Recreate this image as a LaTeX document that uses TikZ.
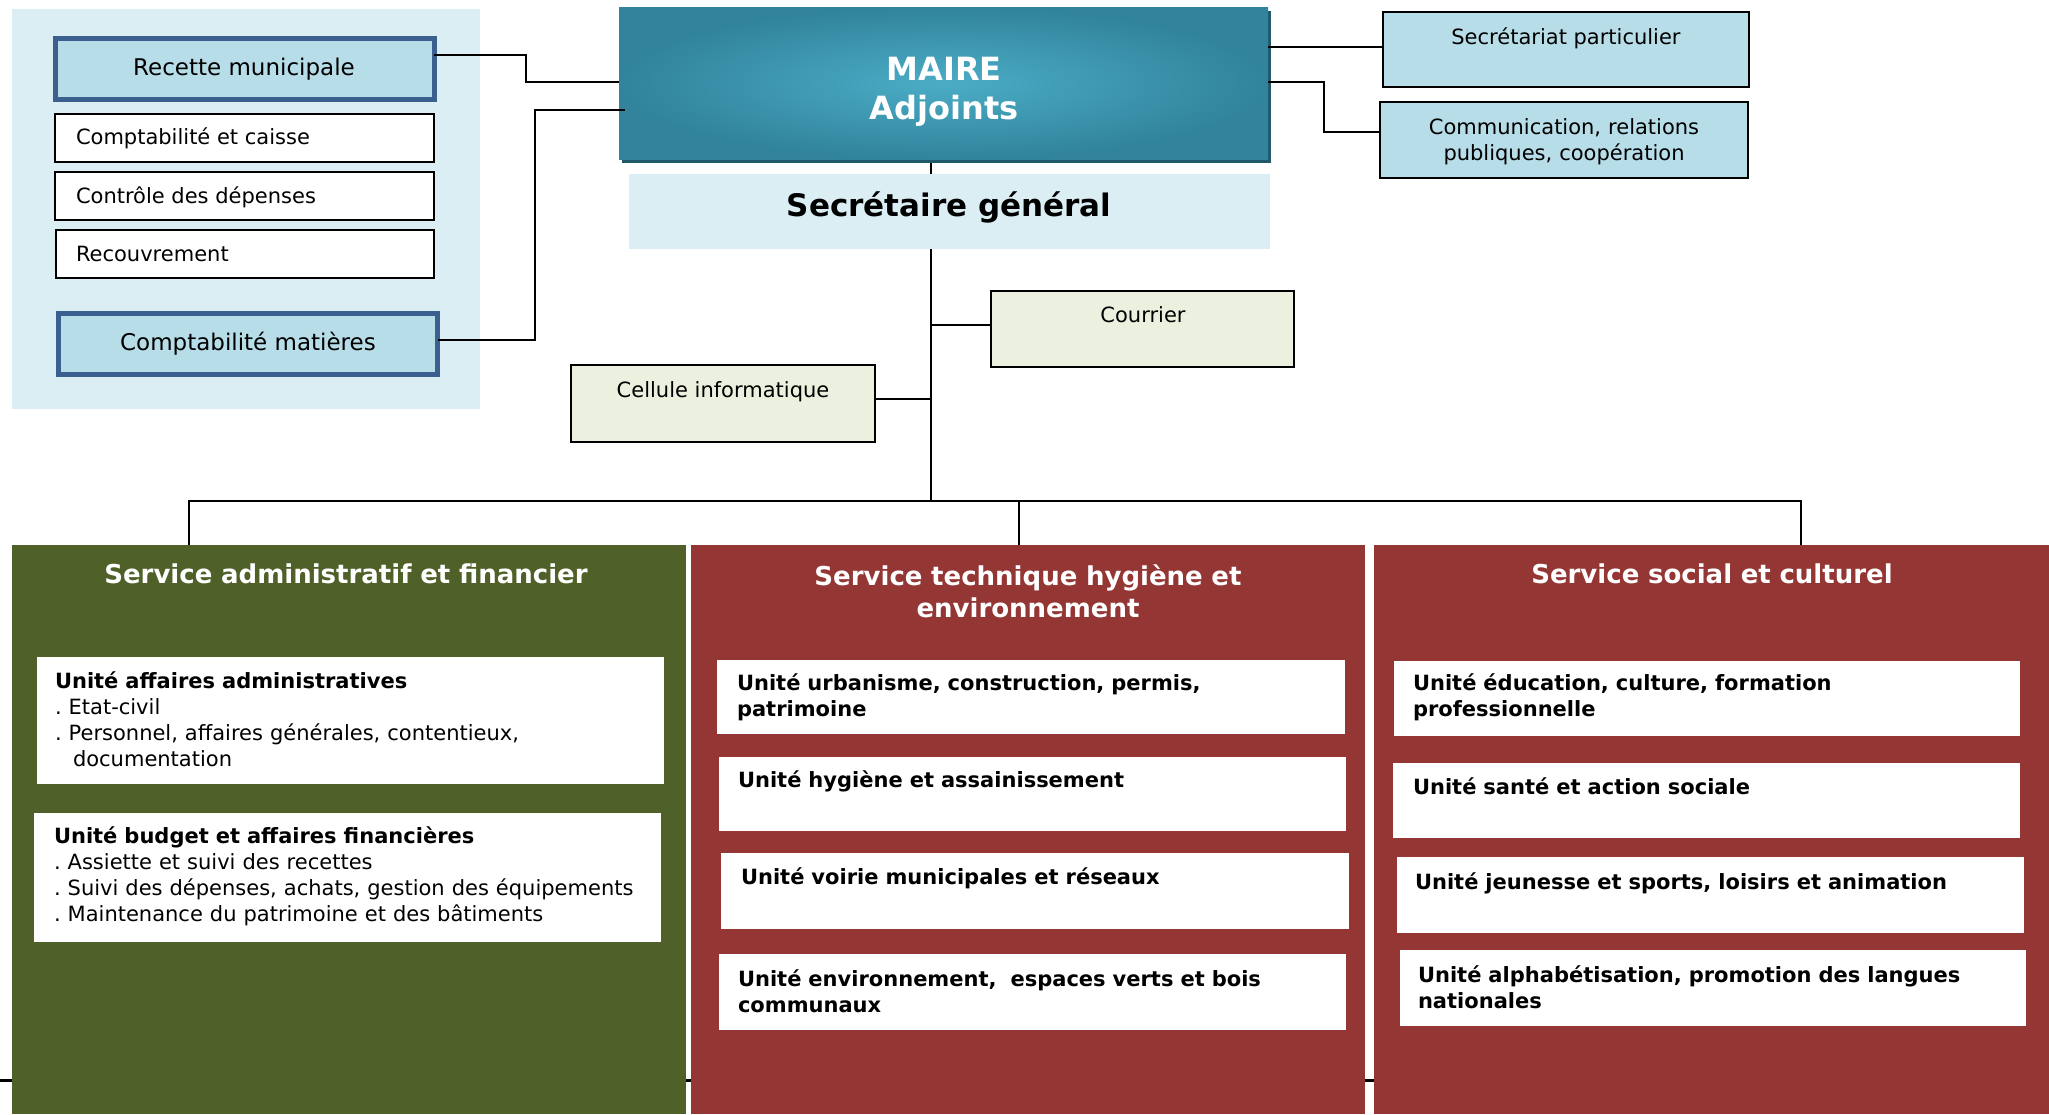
\documentclass[tikz,border=0pt]{standalone}
\usepackage{fontspec}
\setmainfont{DejaVu Sans}
\usetikzlibrary{fit}
\definecolor{panel}{HTML}{DBEEF3}
\definecolor{lblue}{HTML}{B7DDE8}
\definecolor{dblue}{HTML}{3B5F8F}
\definecolor{lgreen}{HTML}{EBF1DE}
\definecolor{olive}{HTML}{4F6128}
\definecolor{dred}{HTML}{943634}
\definecolor{tealA}{HTML}{31849B}
\definecolor{tealB}{HTML}{4BACC6}
\definecolor{tealsh}{HTML}{215968}
\definecolor{sgfill}{HTML}{DAEEF3}
\newcommand\myfs[2]{\fontsize{#1}{#2}\selectfont}
\frenchspacing
\begin{document}
\begin{tikzpicture}[x=1pt,y=-1pt,
  every node/.style={inner sep=0pt,outer sep=0pt},
  conn/.style={draw=black,line width=2pt},
  recbox/.style={fill=lblue,draw=dblue,line width=5pt},
  whitebox/.style={fill=white,draw=black,line width=2pt},
  bluebox/.style={fill=lblue,draw=black,line width=2pt},
  greenbox/.style={fill=lgreen,draw=black,line width=2pt},
  unitbox/.style={fill=white},
  small/.style={font=\myfs{21}{26}},
  big/.style={font=\myfs{23}{28}},
  svtitle/.style={font=\myfs{26}{32}\bfseries,text=white,text width=520pt,align=center,anchor=base},
  unittxt/.style={font=\myfs{21}{26}\frenchspacing,text width=620pt,align=left,anchor=base west},
]
\useasboundingbox (0,0) rectangle (2049,1114);

% faint line seen behind the service blocks
\coordinate (bl) at (0,1080);
\coordinate (br) at (2049,1080);
\draw[line width=3pt] (bl) -- (br);

% ---------- left panel ----------
\node[fill=panel,fit={(12,9) (480,409)}] (panel) {};
\node[recbox,fit={(55,38) (434,99)}] (rec) {};
\node[big,anchor=base] (trec) at (244,75) {Recette municipale};
\node[whitebox,fit={(55,114) (434,162)}] (cc) {};
\node[small,anchor=base west] (tcc) at (76,144.5) {Comptabilité et caisse};
\node[whitebox,fit={(55,172) (434,220)}] (cd) {};
\node[small,anchor=base west] (tcd) at (76,203.5) {Contrôle des dépenses};
\node[whitebox,fit={(56,230) (434,278)}] (rc) {};
\node[small,anchor=base west] (trc) at (76,261.5) {Recouvrement};
\node[recbox,fit={(58.5,313.5) (437.5,374.5)}] (cm) {};
\node[big,anchor=base] (tcm) at (248,350) {Comptabilité matières};

% ---------- Maire ----------
\node[fill=tealsh,fit={(622,11) (1271,163)}] (msh) {};
\node[shading=radial,inner color=tealB,outer color=tealA,fit={(619,7) (1268,159)}] (maire) {};
\node[font=\myfs{32}{39}\bfseries,text=white,text width=400pt,align=center,anchor=base] (tmaire) at (944,80.5) {MAIRE\\Adjoints};

\node[fill=sgfill,fit={(629,174) (1270,249)}] (sg) {};
\node[font=\myfs{31}{36}\bfseries,anchor=base] (tsg) at (949,216) {Secrétaire général};

% ---------- right top ----------
\node[bluebox,fit={(1383,12) (1749,87)}] (sec) {};
\node[small,anchor=base] (tsec) at (1566,44.5) {Secrétariat particulier};
\node[bluebox,fit={(1380,102) (1748,178)}] (com) {};
\node[small,text width=360pt,align=center,anchor=base] (tcom) at (1564,134.5) {Communication, relations\\publiques, coopération};

% ---------- Courrier / Cellule ----------
\node[greenbox,fit={(991,291) (1294,367)}] (cou) {};
\node[small,anchor=base] (tcou) at (1143,322.5) {Courrier};
\node[greenbox,fit={(571,365) (875,442)}] (cel) {};
\node[small,anchor=base] (tcel) at (723,397.5) {Cellule informatique};

% ---------- services ----------
\node[fill=olive,fit={(12,545) (686,1114)}] (svA) {};
\node[fill=dred,fit={(691,545) (1365,1114)}] (svB) {};
\node[fill=dred,fit={(1374,545) (2049,1114)}] (svC) {};
\node[svtitle] (tsvA) at (346,583.5) {Service administratif et financier};
\node[svtitle] (tsvB) at (1028,585.5) {Service technique hygiène et\\environnement};
\node[svtitle] (tsvC) at (1712,583.5) {Service social et culturel};

% units - administratif
\node[unitbox,fit={(37,657) (664,784)}] (uA1) {};
\node[unittxt] (tuA1) at (55,688.5) {\textbf{Unité affaires administratives}\\. Etat-civil\\. Personnel, affaires générales, contentieux,\\\hspace*{18pt}documentation};
\node[unitbox,fit={(34,813) (661,942)}] (uA2) {};
\node[unittxt] (tuA2) at (54,843.5) {\textbf{Unité budget et affaires financières}\\. Assiette et suivi des recettes\\. Suivi des dépenses, achats, gestion des équipements\\. Maintenance du patrimoine et des bâtiments};

% units - technique
\node[unitbox,fit={(717,660) (1345,734)}] (uB1) {};
\node[unittxt,font=\myfs{21}{26}\bfseries] (tuB1) at (737,690.5) {Unité urbanisme, construction, permis,\\patrimoine};
\node[unitbox,fit={(719,757) (1346,831)}] (uB2) {};
\node[unittxt,font=\myfs{21}{26}\bfseries] (tuB2) at (738,787.5) {Unité hygiène et assainissement};
\node[unitbox,fit={(721,853) (1349,929)}] (uB3) {};
\node[unittxt,font=\myfs{21}{26}\bfseries] (tuB3) at (741,884.5) {Unité voirie municipales et réseaux};
\node[unitbox,fit={(719,954) (1346,1030)}] (uB4) {};
\node[unittxt,font=\myfs{21}{26}\bfseries] (tuB4) at (738,986.5) {Unité environnement,\ \ espaces verts et bois\\communaux};

% units - social
\node[unitbox,fit={(1394,661) (2020,736)}] (uC1) {};
\node[unittxt,font=\myfs{21}{26}\bfseries] (tuC1) at (1413,690.5) {Unité éducation, culture, formation\\professionnelle};
\node[unitbox,fit={(1393,763) (2020,838)}] (uC2) {};
\node[unittxt,font=\myfs{21}{26}\bfseries] (tuC2) at (1413,794.5) {Unité santé et action sociale};
\node[unitbox,fit={(1397,857) (2024,933)}] (uC3) {};
\node[unittxt,font=\myfs{21}{26}\bfseries] (tuC3) at (1415,889.5) {Unité jeunesse et sports, loisirs et animation};
\node[unitbox,fit={(1400,950) (2026,1026)}] (uC4) {};
\node[unittxt,font=\myfs{21}{26}\bfseries] (tuC4) at (1418,982.5) {Unité alphabétisation, promotion des langues\\nationales};

% ---------- connectors ----------
\coordinate (b1) at (526,82);
\draw[conn] ([yshift=13.5pt]rec.east) -| (b1) -- (b1 -| maire.west);
\coordinate (b2) at (535,110);
\draw[conn] ([yshift=4pt]cm.east) -| (b2) -- ([xshift=6pt]b2 -| maire.west);
\draw[conn] ([yshift=2.5pt]sec.west -| maire.east) -- ([yshift=2.5pt]sec.west);
\coordinate (b4) at (1324,82);
\draw[conn] (b4 -| maire.east) -- (b4) |- ([yshift=8pt]com.west);

\coordinate (bus) at (931,501);
\draw[conn] (msh.south -| bus) -- (sg.north -| bus);
\draw[conn] (sg.south -| bus) -- (bus);
\draw[conn] ([yshift=4pt]cou.west) -- ([yshift=4pt]cou.west -| bus);
\draw[conn] ([yshift=4.5pt]cel.east) -- ([yshift=4.5pt]cel.east -| bus);

\coordinate (dA) at (189,501);
\coordinate (dB) at (1019,501);
\coordinate (dC) at (1801,501);
\draw[conn] (svA.north -| dA) |- (dC) -- (svC.north -| dC);
\draw[conn] (dB) -- (svB.north -| dB);
\end{tikzpicture}
\end{document}
